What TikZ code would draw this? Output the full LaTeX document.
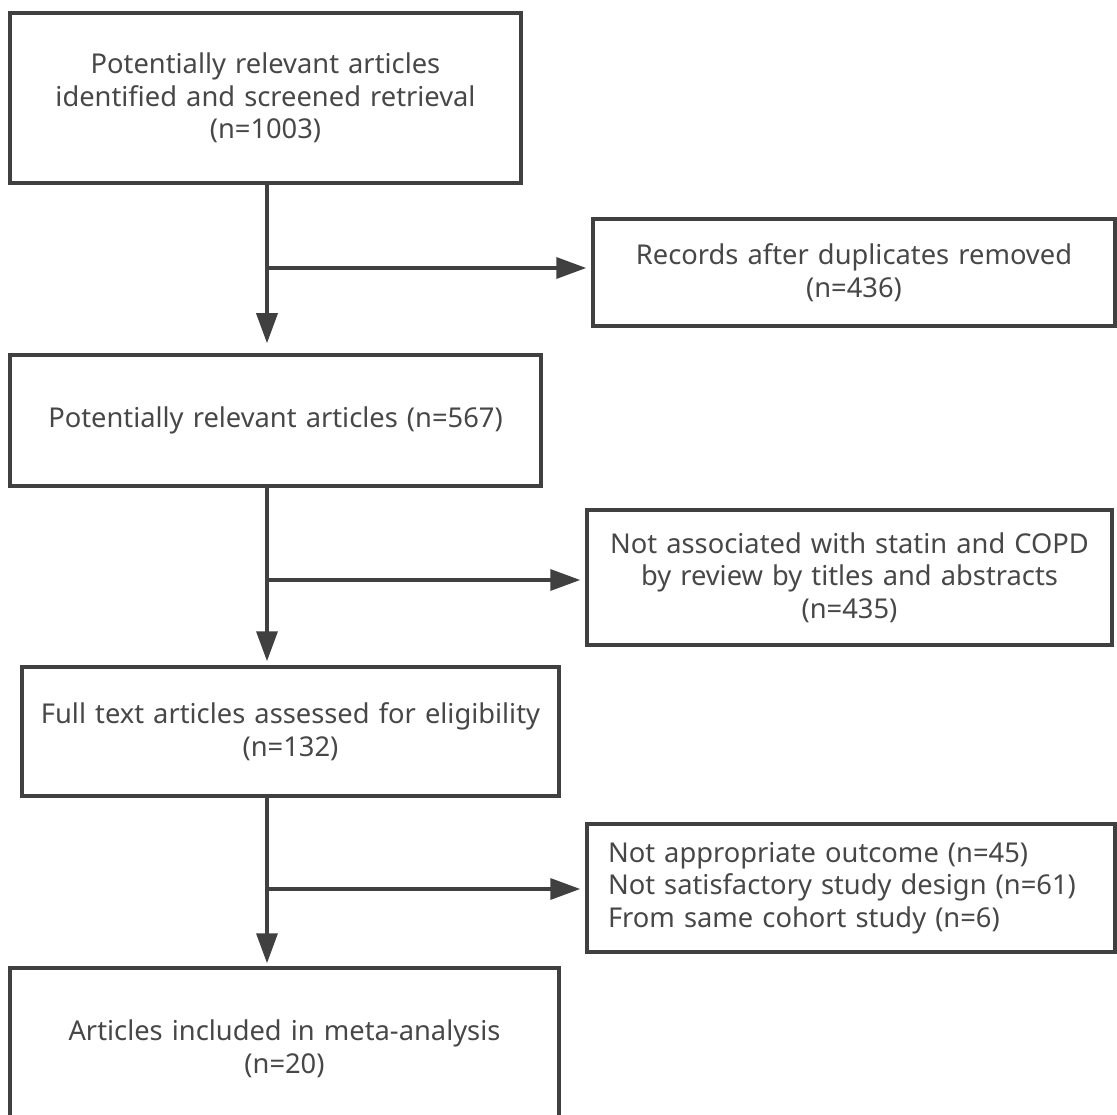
\documentclass[tikz,border=0pt]{standalone}
\usepackage{fontspec}
\setmainfont{Noto Sans}
\usetikzlibrary{arrows.meta}
\definecolor{linec}{HTML}{404040}
\definecolor{textc}{HTML}{474747}
\begin{document}
\begin{tikzpicture}[x=1pt,y=-1pt,
  box/.style={draw=linec, line width=3.5pt, text=textc, align=center, inner sep=0pt,
    font=\fontsize{27.3}{32.5}\selectfont},
  arr/.style={draw=linec, line width=3.5pt, -{Triangle[length=30pt,width=21pt]}}]
\clip (0,0) rectangle (1117,1115);
\fill[white] (0,0) rectangle (1117,1115);
\node[box, text width=511pt, minimum height=170pt] (b1) at (265.5,98)
  {Potentially relevant articles\\identified and screened retrieval\\(n=1003)};
\node[box, text width=522pt, minimum height=107pt] (b2) at (854,272.5)
  {Records after duplicates removed\\(n=436)};
\node[box, text width=531pt, minimum height=131pt] (b3) at (275.5,420.5)
  {Potentially relevant articles (n=567)};
\node[box, text width=525pt, minimum height=135pt] (b4) at (849.5,577.5)
  {Not associated with statin and COPD\\by review by titles and abstracts\\(n=435)};
\node[box, text width=537pt, minimum height=129pt] (b5) at (290.5,731.5)
  {Full text articles assessed for eligibility\\(n=132)};
\node[box, align=left, inner xsep=21pt, text width=486pt, minimum height=128pt] (b6) at (851,888)
  {Not appropriate outcome (n=45)\\Not satisfactory study design (n=61)\\From same cohort study (n=6)};
\node[box, text width=549pt, minimum height=162pt] (b7) at (284.5,1049)
  {Articles included in meta-analysis\\(n=20)};
\coordinate (j1) at (267,268);
\coordinate (j2) at (267,580);
\coordinate (j3) at (267,889);
\draw[arr, shorten >=10pt] (b1.south -| j1) -- (b3.north -| j1);
\draw[arr, shorten >=5pt] (j1) -- (j1 -| b2.west);
\draw[arr, shorten >=4pt] (b3.south -| j2) -- (b5.north -| j2);
\draw[arr, shorten >=5pt] (j2) -- (j2 -| b4.west);
\draw[arr, shorten >=3pt] (b5.south -| j3) -- (b7.north -| j3);
\draw[arr, shorten >=5pt] (j3) -- (j3 -| b6.west);
\end{tikzpicture}
\end{document}
